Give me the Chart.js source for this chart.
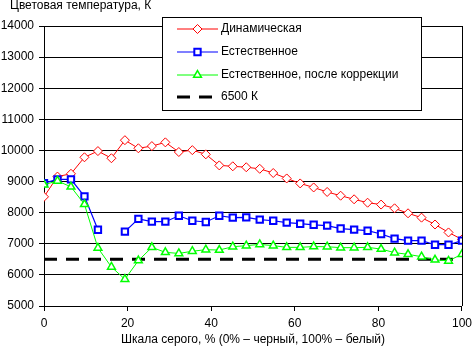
<!DOCTYPE html>
<html><head><meta charset="utf-8">
<script src="https://cdn.jsdelivr.net/npm/chart.js@4/dist/chart.umd.min.js"></script>
<style>html,body{margin:0;padding:0;background:#fff}#wrap{width:472px;height:349px}</style>
</head><body><div id="wrap"><canvas id="c" width="472" height="349"></canvas></div>
<script>
const chartTitle = "Цветовая температура, К";
const xTitle = "Шкала серого, % (0% – черный, 100% – белый)";
const seriesNames = ["Динамическая", "Естественное", "Естественное, после коррекции", "6500 К"];
const grayLevels = Array.from({length: 32}, (_, i) => i * 100 / 31);
const dynamicT = [8510,9160,9250,9780,9980,9750,10330,10070,10140,10260,9950,10010,9875,9520,9490,9460,9410,9275,9100,8940,8810,8665,8545,8430,8320,8260,8140,7980,7840,7620,7365,7140];
const naturalT = [8950,9070,9070,8525,7450,null,7390,7800,7710,7710,7900,7740,7700,7900,7840,7850,7775,7740,7680,7645,7610,7585,7490,7455,7420,7315,7165,7100,7100,6970,6970,7100];
const correctedT = [8900,9020,8830,8270,6865,6255,5860,6460,6885,6725,6690,6760,6810,6800,6905,6940,6980,6940,6885,6885,6910,6905,6875,6875,6885,6830,6715,6660,6585,6485,6450,6665];
const refX = [0, 100];
const refT = [6500, 6500];
const xTicks = [0, 20, 40, 60, 80, 100];
const yTicks = [5000, 14000, 1000];

const FONT = "'Liberation Sans', Arial, sans-serif";
const pts = (xs, ys) => xs.map((x, i) => ({x: x, y: ys[i]}));

const extras = {
  id: 'extras',
  beforeDatasetsDraw(chart) {
    const {ctx, chartArea: a} = chart;
    ctx.save();
    ctx.strokeStyle = '#000'; ctx.lineWidth = 1;
    ctx.beginPath(); ctx.moveTo(Math.round(a.right) + 0.5, a.top); ctx.lineTo(Math.round(a.right) + 0.5, a.bottom); ctx.stroke();
    ctx.restore();
  },
  afterDraw(chart) {
    const {ctx} = chart;
    ctx.save();
    ctx.font = '12px ' + FONT;
    ctx.fillStyle = '#000';
    ctx.textBaseline = 'middle';
    ctx.textAlign = 'left';
    ctx.fillText(chartTitle, 10, 6);
    // legend
    ctx.fillStyle = '#fff';
    ctx.fillRect(162.5, 17.5, 259, 93);
    ctx.strokeStyle = '#000'; ctx.lineWidth = 1;
    ctx.strokeRect(162.5, 17.5, 259, 93);
    const rows = [29, 52, 75, 97];
    chart.data.datasets.forEach((ds, i) => {
      const y = rows[i];
      ctx.save();
      ctx.strokeStyle = ds.borderColor; ctx.lineWidth = ds.borderWidth;
      ctx.setLineDash(ds.borderDash || []);
      ctx.beginPath(); ctx.moveTo(177, y); ctx.lineTo(218, y); ctx.stroke();
      ctx.restore();
      if (ds.pointRadius > 0) {
        ctx.save();
        ctx.strokeStyle = ds.pointBorderColor; ctx.fillStyle = '#fff';
        ctx.lineWidth = ds.pointBorderWidth;
        Chart.helpers.drawPoint(ctx, {pointStyle: ds.pointStyle, radius: ds.pointRadius, rotation: 0, borderWidth: ds.pointBorderWidth}, 197.5, y);
        ctx.restore();
      }
      ctx.fillStyle = '#000';
      ctx.fillText(ds.label, 221, y);
    });
    ctx.restore();
  }
};

new Chart(document.getElementById('c'), {
  type: 'line',
  data: {
    datasets: [
      {label: seriesNames[0], data: pts(grayLevels, dynamicT), borderColor: '#ff0000', borderWidth: 1,
       pointStyle: 'rectRot', pointRadius: 4.5, pointBorderColor: '#ff0000', pointBackgroundColor: '#fff', pointBorderWidth: 1, order: 2},
      {label: seriesNames[1], data: pts(grayLevels, naturalT), borderColor: '#0000ff', borderWidth: 1.2, spanGaps: false,
       pointStyle: 'rect', pointRadius: 4.5, pointBorderColor: '#0000ff', pointBackgroundColor: '#fff', pointBorderWidth: 2, order: 1},
      {label: seriesNames[2], data: pts(grayLevels, correctedT), borderColor: '#00ff00', borderWidth: 1,
       pointStyle: 'triangle', pointRadius: 4.5, pointBorderColor: '#00ff00', pointBackgroundColor: '#fff', pointBorderWidth: 1.5, order: 0},
      {label: seriesNames[3], data: pts(refX, refT), borderColor: '#000', borderWidth: 3, borderDash: [13, 9],
       pointRadius: 0, order: 3}
    ]
  },
  options: {
    responsive: false, animation: false,
    layout: {padding: {top: 26, right: 0, left: 0, bottom: 0}},
    plugins: {legend: {display: false}, tooltip: {enabled: false}, title: {display: false}},
    elements: {line: {tension: 0}},
    scales: {
      x: {type: 'linear', min: xTicks[0], max: xTicks[xTicks.length - 1],
          afterBuildTicks(s) { s.ticks = xTicks.map(v => ({value: v})); },
          afterFit(s) { s.height = 43; },
          grid: {drawOnChartArea: false, drawTicks: true, tickLength: 5, color: '#000'},
          border: {color: '#000', width: 1},
          ticks: {color: '#000', font: {family: FONT, size: 12, lineHeight: 2.1}, padding: 0, maxRotation: 0, callback: v => String(v)},
          title: {display: true, text: xTitle, color: '#000', font: {family: FONT, size: 12}, padding: {top: 0, bottom: 2}}},
      y: {type: 'linear', min: yTicks[0], max: yTicks[1],
          ticks: {stepSize: yTicks[2], color: '#000', font: {family: FONT, size: 12}, padding: 5, callback: v => String(v)},
          afterFit(s) { s.width = 44; },
          grid: {color: '#000', tickLength: 5, lineWidth: 1},
          border: {color: '#000', width: 1}}
    }
  },
  plugins: [extras]
});
</script></body></html>
